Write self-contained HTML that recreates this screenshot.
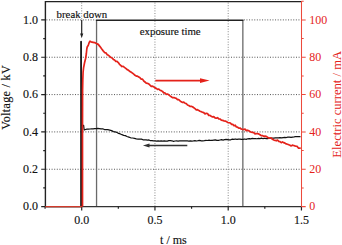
<!DOCTYPE html>
<html><head><meta charset="utf-8"><style>
html,body{margin:0;padding:0;background:#fff;width:342px;height:245px;overflow:hidden;font-family:"Liberation Serif",serif;}
svg{display:block}
</style></head><body><svg width="342" height="245" viewBox="0 0 342 245"><path d="M46.4 169.26H301.5M46.4 131.92H301.5M46.4 94.58H301.5M46.4 57.24H301.5M46.4 19.9H95.85M243.85 19.9H301.5" stroke="#555" stroke-width="1" stroke-dasharray="1 1.6" fill="none"/><path d="M154.95 2.6V206.6M228.2 2.6V206.6M81.7 2.6V20" stroke="#888" stroke-width="1" stroke-dasharray="1 1.6" fill="none"/><path d="M96.55 206.6V20.2M242.85 20.2V206.6" fill="none" stroke="#6a6a6a" stroke-width="1.3"/><path d="M95.85 20.2H243.45" fill="none" stroke="#222" stroke-width="1.4"/><path d="M45.4 206.6V1.6H301.5" fill="none" stroke="#222" stroke-width="1.4"/><path d="M45.4 206.6H301.5" fill="none" stroke="#333" stroke-width="1.4"/><path d="M45.4 206.6H41.2M45.4 187.93H43.2M45.4 169.26H41.2M45.4 150.59H43.2M45.4 131.92H41.2M45.4 113.25H43.2M45.4 94.58H41.2M45.4 75.91H43.2M45.4 57.24H41.2M45.4 38.57H43.2M45.4 19.9H41.2M45.08 206.6V208.8M81.7 206.6V210.6M118.33 206.6V208.8M154.95 206.6V210.6M191.57 206.6V208.8M228.2 206.6V210.6M264.82 206.6V208.8M301.45 206.6V210.6" stroke="#222" stroke-width="1.2" fill="none"/><polyline fill="none" stroke="#111" stroke-width="1.25" stroke-linejoin="round" points="45.4,206.6 81.1,206.6 81.1,41.4 81.1,125 83.6,125.3 84.2,130 85.4,129.5 86.93,129.15 88.47,129.2 90,129 91.57,128.78 93.13,128.81 94.7,128.6 96.27,128.69 97.83,128.3 99.4,128.6 101,128.9 102.67,128.76 104.33,129.54 106,129.5 107.87,129.7 109.73,130.05 111.6,130.6 113.4,131.58 115.2,131.85 117,132.5 118.67,133.47 120.33,133.95 122,134.7 123.67,135.4 125.33,135.66 127,136.5 128.87,137.09 130.73,137.76 132.6,138 134.45,138.32 136.3,138.77 138.15,139.02 140,139.2 141.5,139.09 143,139.78 144.5,139.86 146,139.86 147.5,140.2 149,139.99 150.5,140.7 152,140.54 153.5,140.83 155,140.8 156.54,141.08 158.08,140.98 159.62,141.14 161.15,140.79 162.69,141.09 164.23,140.85 165.77,141.21 167.31,141.19 168.85,140.66 170.38,140.7 171.92,140.77 173.46,141.31 175,141 176.54,140.93 178.08,141.04 179.62,140.79 181.15,140.91 182.69,140.8 184.23,140.76 185.77,140.9 187.31,140.87 188.85,141.08 190.38,140.9 191.92,141.05 193.46,140.97 195,140.7 196.56,141 198.12,140.73 199.69,140.33 201.25,140.78 202.81,140.81 204.38,140.72 205.94,140.44 207.5,140.5 209.06,140.1 210.62,140.49 212.19,140.27 213.75,140.02 215.31,139.83 216.88,140.34 218.44,140.39 220,140 221.54,139.64 223.08,140.07 224.62,139.73 226.15,139.48 227.69,139.51 229.23,139.77 230.77,139.78 232.31,139.13 233.85,139.46 235.38,138.99 236.92,139.39 238.46,139.05 240,139.1 241.54,139.33 243.08,139.36 244.62,138.99 246.15,139.3 247.69,138.77 249.23,138.57 250.77,138.9 252.31,138.46 253.85,138.54 255.38,138.65 256.92,138.75 258.46,138.4 260,138.6 261.54,138.21 263.08,138.72 264.62,138.26 266.15,138.64 267.69,138.53 269.23,138.1 270.77,138.09 272.31,138.06 273.85,138.08 275.38,137.97 276.92,137.88 278.46,137.85 280,137.7 281.58,137.92 283.15,137.54 284.73,137.4 286.31,137.52 287.88,137.09 289.46,137.05 291.04,137.44 292.62,137.04 294.19,136.97 295.77,136.51 297.35,136.71 298.92,136.74 300.5,136.6"/><line x1="81.1" y1="206.6" x2="81.1" y2="41.2" stroke="#111" stroke-width="1.4"/><line x1="45.4" y1="206.6" x2="82.3" y2="206.6" stroke="#d23a2a" stroke-width="1.3"/><polyline fill="none" stroke="#e4221a" stroke-width="1.7" stroke-linejoin="round" points="82.5,206.6 82.5,130 82.6,90 82.8,80 83.1,72 83.6,67.7 84.6,62.5 85.6,58.5 86.3,54 86.8,49 87.2,47 88.3,45.2 89.2,42.5 90,41.2 91,41.8 93.2,42.3 94.5,42.6 96.5,43.6 98.25,44.38 100,46.6 101.6,48.81 103.2,50.86 104.8,52.7 106.03,52.94 107.25,54.69 108.47,55.35 109.7,56.3 110.92,57.49 112.15,57.93 113.38,59.39 114.6,60 115.82,61.43 117.05,61.43 118.28,62.57 119.5,64.3 120.72,65.34 121.95,66.54 123.18,66.25 124.4,67.4 125.8,68.38 127.2,69.64 128.6,70.28 130,71.6 131.25,72.32 132.5,73.17 133.75,74.18 135,75.3 136.25,76.04 137.5,76.2 138.75,76.92 140,77.7 141.25,79.18 142.5,79.14 143.75,81.03 145,82 146.25,83.15 147.5,83.32 148.75,83.98 150,85.2 151.25,86.33 152.5,86.16 153.75,86.76 155,87.9 156.25,88.38 157.5,89.35 158.75,89.03 160,90.2 161.25,90.65 162.5,91.38 163.75,92.84 165,92.96 166.25,94.3 167.5,93.98 168.75,94.94 170,95.9 171.25,96.74 172.5,97.7 173.75,97.66 175,97.94 176.25,98.39 177.5,99.62 178.75,99.72 180,100.8 181.25,101.86 182.5,102.51 183.75,102.13 185,103.2 186.25,103.56 187.5,105.04 188.75,105.48 190,106.41 191.25,106.41 192.5,106.77 193.75,107.7 195,108.7 196.25,109.79 197.5,109.66 198.75,110.42 200,111.3 201.25,111.68 202.5,112.18 203.75,112.66 205,113.93 206.25,113.28 207.5,113.56 208.75,115.46 210,115.3 211.25,116.33 212.5,116.96 213.75,116.59 215,117.83 216.25,118.25 217.5,117.66 218.75,118.91 220,119 221.33,120.11 222.67,120.44 224,120.83 225.33,121.08 226.67,121.76 228,122.6 229.2,122.73 230.4,123.03 231.6,124.35 232.8,124.44 234,125.77 235.2,125.16 236.4,126.99 237.6,127.21 238.8,128.1 240,128 241.25,129.04 242.5,129.5 243.75,129.47 245,129.07 246.25,130.62 247.5,130.21 248.75,130.85 250,131.6 251.25,132.23 252.5,132.41 253.75,132.63 255,133.81 256.25,133.71 257.5,133.69 258.75,133.94 260,134.7 261.25,135.65 262.5,135.49 263.75,136.36 265,136.13 266.25,136.31 267.5,137.23 268.75,138.06 270,138 271.25,137.97 272.5,139.36 273.75,140.02 275,140.31 276.25,140.8 277.5,140.04 278.75,141.43 280,141.7 281.25,142.68 282.5,141.9 283.75,142.67 285,143.1 286.25,143.93 287.5,144.21 288.75,144.72 290,145.2 291.2,145.93 292.4,145.07 293.6,145.47 294.8,145.88 296,146.19 297.2,146.42 298.4,148.09 299.6,148.22 300.8,148"/><path d="M301.5 206.6V1.1M301.5 206.6H305.7M301.5 187.93H303.7M301.5 169.26H305.7M301.5 150.59H303.7M301.5 131.92H305.7M301.5 113.25H303.7M301.5 94.58H305.7M301.5 75.91H303.7M301.5 57.24H305.7M301.5 38.57H303.7M301.5 19.9H305.7M301.5 1.23H303.7" stroke="#ec4a3c" stroke-width="1.05" fill="none"/><line x1="81.7" y1="20" x2="81.7" y2="34.5" stroke="#222" stroke-width="1.2"/><path d="M80.1 33.4L81.7 38.3L83.3 33.4Z" fill="#222"/><line x1="155.3" y1="80.6" x2="202" y2="80.6" stroke="#e4221a" stroke-width="1.7"/><path d="M200 78.2L209.6 80.6L200 83Z" fill="#e4221a"/><line x1="147" y1="145.4" x2="187.3" y2="145.4" stroke="#333" stroke-width="1.5"/><path d="M149.5 143.4L142.9 145.4L149.5 147.4Z" fill="#333"/><g font-family="Liberation Serif" font-size="12.5" fill="#111" stroke="#111" stroke-width="0.15"><text transform="translate(38 210.4) scale(0.96 1.04)" text-anchor="end">0.0</text><text transform="translate(38 173.06) scale(0.96 1.04)" text-anchor="end">0.2</text><text transform="translate(38 135.72) scale(0.96 1.04)" text-anchor="end">0.4</text><text transform="translate(38 98.38) scale(0.96 1.04)" text-anchor="end">0.6</text><text transform="translate(38 61.04) scale(0.96 1.04)" text-anchor="end">0.8</text><text transform="translate(38 23.7) scale(0.96 1.04)" text-anchor="end">1.0</text><text transform="translate(81.7 223.8) scale(0.96 1.04)" text-anchor="middle">0.0</text><text transform="translate(154.95 223.8) scale(0.96 1.04)" text-anchor="middle">0.5</text><text transform="translate(228.2 223.8) scale(0.96 1.04)" text-anchor="middle">1.0</text><text transform="translate(301.45 223.8) scale(0.96 1.04)" text-anchor="middle">1.5</text></g><g font-family="Liberation Serif" font-size="12.5" fill="#e4221a"><text transform="translate(309.2 210.4) scale(0.96 1.04)">0</text><text transform="translate(309.2 173.06) scale(0.96 1.04)">20</text><text transform="translate(309.2 135.72) scale(0.96 1.04)">40</text><text transform="translate(309.2 98.38) scale(0.96 1.04)">60</text><text transform="translate(309.2 61.04) scale(0.96 1.04)">80</text><text transform="translate(309.2 23.7) scale(0.96 1.04)">100</text></g><text x="173.4" y="243.6" text-anchor="middle" font-family="Liberation Serif" font-size="12" fill="#111" stroke="#111" stroke-width="0.15">t / ms</text><text transform="translate(10.3 97.4) rotate(-90)" text-anchor="middle" letter-spacing="0.28" font-family="Liberation Serif" font-size="12.2" fill="#111" stroke="#111" stroke-width="0.15">Voltage / kV</text><text transform="translate(340.8 104.3) rotate(-90)" text-anchor="middle" font-family="Liberation Serif" font-size="12.6" fill="#e4221a">Electric current / mA</text><text x="56.6" y="18.2" font-family="Liberation Serif" font-size="10.8" fill="#111" stroke="#111" stroke-width="0.15">break down</text><text x="139.8" y="35.4" font-family="Liberation Serif" font-size="10.8" fill="#111" stroke="#111" stroke-width="0.15">exposure time</text></svg></body></html>
